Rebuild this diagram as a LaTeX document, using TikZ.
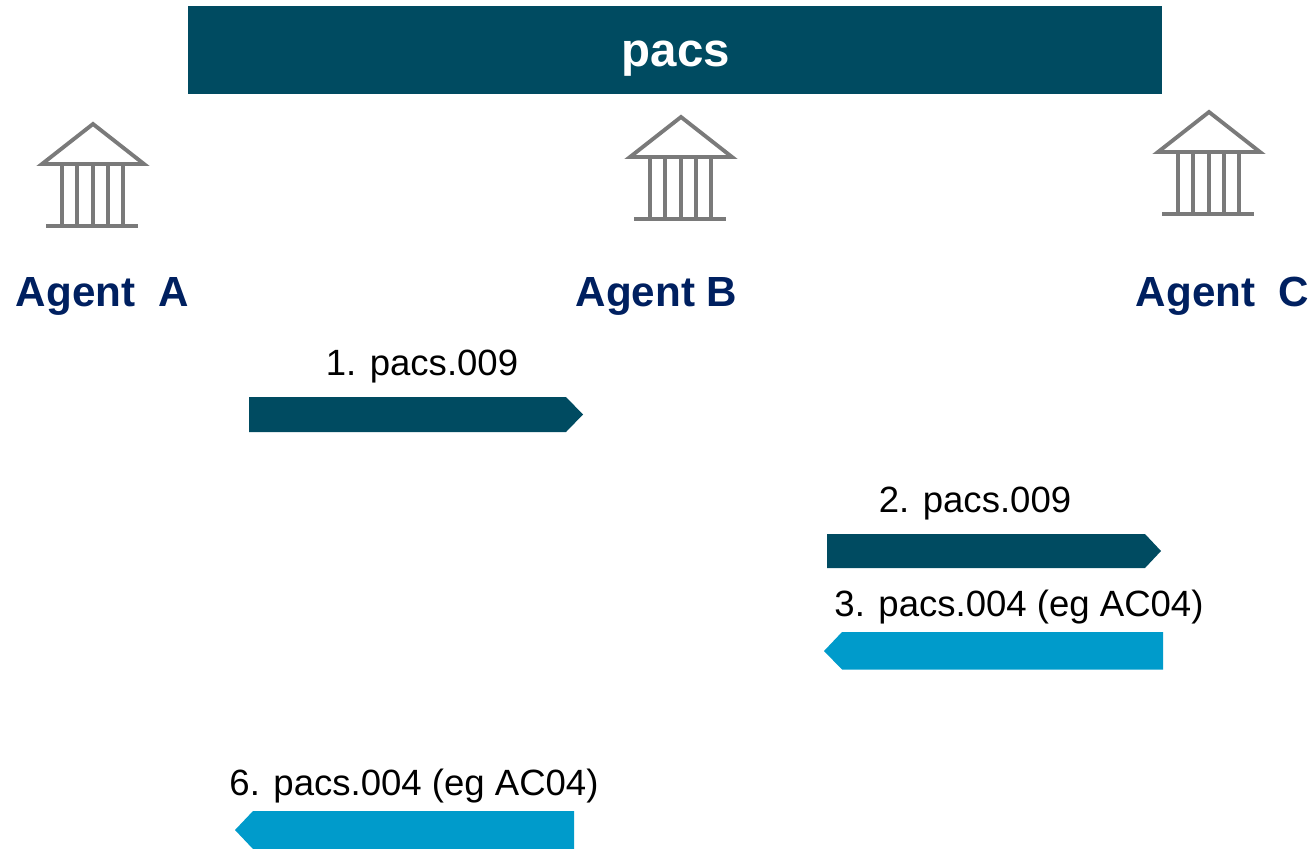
\documentclass[tikz,border=0pt]{standalone}
\usepackage{fontspec}
\setmainfont{Liberation Sans}
\usepackage{xcolor}
\usepackage{tikz}
\definecolor{pacsdark}{HTML}{004B61}
\definecolor{pacslight}{HTML}{009BCB}
\definecolor{agentblue}{HTML}{002060}
\definecolor{bankgrey}{HTML}{7A7A7A}
\tikzstyle{agent} = [text=agentblue, font=\fontsize{24}{28}\selectfont\bfseries]
\tikzstyle{msg} = [text=black, font=\fontsize{20.8}{24}\selectfont]
\tikzstyle{bank} = [draw=bankgrey, line width=2.8pt, line join=miter]
\tikzstyle{bankbar} = [draw=bankgrey, line width=2.5pt]
\newcommand{\bankicon}[2]{
	\begin{scope}[shift={(#1,#2)}]
	\draw[bank, line width=2.2pt] (-51,40) -- (0,0) -- (51,40) -- cycle;
	\foreach \xcol in {-31,0,30} \draw[bankbar] (\xcol,40) -- (\xcol,102);
	\foreach \xcol in {-16,15} \draw[bankbar, line width=1.8pt] (\xcol,40) -- (\xcol,102);
	\draw[bank] (-47,102) -- (45,102);
	\end{scope}
}
\begin{document}
\begin{tikzpicture}[x=0.02cm,y=-0.02cm]
	\useasboundingbox (0,0) rectangle (1314,848);
	\coordinate (header) at (676,59);
	\coordinate (agenta) at (102.5,296);
	\coordinate (agentb) at (656.5,296);
	\coordinate (agentc) at (1222.5,296);
	% Header
	\fill[pacsdark] (188,6) rectangle (1162,94);
	\node[name=pacs, text=white, font=\fontsize{27}{32}\selectfont\bfseries] at (header) {pacs};
	% Banks
	\bankicon{93}{124}
	\bankicon{681}{117}
	\bankicon{1209}{112}
	% Agents
	\begin{scope}[every node/.style={agent}]
	\node[name=agenta] at (agenta) {Agent\ \ A};
	\node[name=agentb] at (agentb) {Agent B};
	\node[name=agentc] at (agentc) {Agent\ \ C};
	\end{scope}
	% Messages
	\begin{scope}[every node/.style={msg}]
	\node[name=msg1] at (422,367) {1. pacs.009};
	\node[name=msg2] at (975,504) {2. pacs.009};
	\node[name=msg3] at (1019,607) {3. pacs.004 (eg AC04)};
	\node[name=msg6] at (414,786) {6. pacs.004 (eg AC04)};
	\end{scope}
	% Arrows
	\fill[pacsdark] (249,397) -- (566,397) -- (583,414.5) -- (566,432) -- (249,432) -- cycle;
	\fill[pacsdark] (827,534) -- (1145,534) -- (1161,551) -- (1145,568) -- (827,568) -- cycle;
	\fill[pacslight] (1163,632) -- (842,632) -- (824,651) -- (842,669.5) -- (1163,669.5) -- cycle;
	\fill[pacslight] (574,811) -- (253,811) -- (235,830) -- (253,849) -- (574,849) -- cycle;
\end{tikzpicture}
\end{document}
